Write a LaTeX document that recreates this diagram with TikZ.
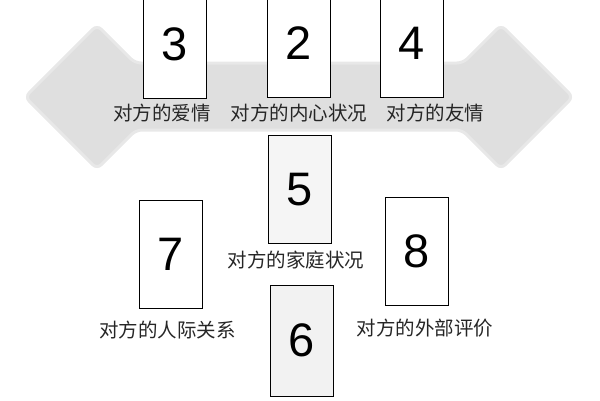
\documentclass[tikz,border=0pt]{standalone}
\usepackage{fontspec}
\setmainfont{Liberation Sans}
\newfontfamily\cjk{Noto Sans CJK SC}
\begin{document}
\begin{tikzpicture}[x=1pt, y=-1pt,
    card/.style={rectangle, draw, line width=1pt, fill=white, minimum width=63pt, minimum height=108pt, inner sep=0pt, font=\fontsize{47}{47}\selectfont},
    cardlabel/.style={font=\cjk\fontsize{19.5}{20}\selectfont, text=black!85, inner sep=0pt}]
    \useasboundingbox (0,0) rectangle (600,400);
    % grey arrow behind the upper row
    \fill[gray!25, rounded corners=6pt, draw=gray!18, line width=3pt]
      (25,97) -- (97,25) -- (135,63) -- (463,63) -- (501,25) -- (573,97)
      -- (501,169) -- (462,130) -- (136,130) -- (97,169) -- cycle;
    % cards
    \node [card] (c3) at (174.5,44) {3};
    \node [card] (c2) at (298.5,43) {2};
    \node [card] (c4) at (412,43) {4};
    \node [card, fill=gray!8] (c5) at (300,189.5) {5};
    \node [card] (c7) at (171,254) {7};
    \node [card] (c8) at (417,251.5) {8};
    \node [card, fill=gray!10, minimum height=111pt] (c6) at (301.5,340.5) {6};
    % labels
    \node [cardlabel] (l3) at (162,113) {对方的爱情};
    \node [cardlabel] (l2) at (299,113) {对方的内心状况};
    \node [cardlabel] (l4) at (435.5,113) {对方的友情};
    \node [cardlabel] (l5) at (296,260) {对方的家庭状况};
    \node [cardlabel] (l7) at (167.5,330) {对方的人际关系};
    \node [cardlabel] (l8) at (425,328) {对方的外部评价};
\end{tikzpicture}
\end{document}
